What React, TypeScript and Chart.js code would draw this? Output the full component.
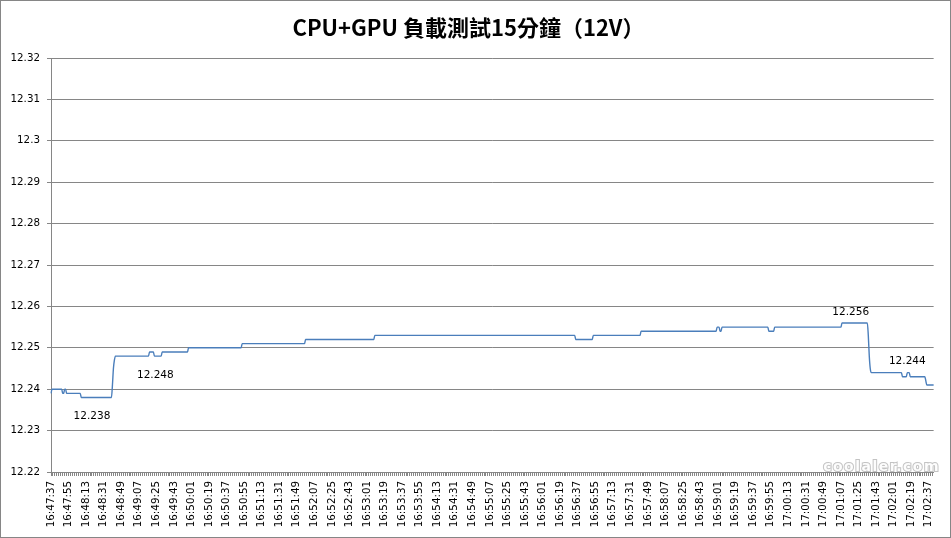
import React, { useEffect, useRef } from 'react';
import { Chart, registerables } from 'chart.js';

Chart.register(...registerables);

const TITLE = 'CPU+GPU 負載測試15分鐘（12V）';
const START_TIME = '16:47:37';
const LABEL_EVERY = 18;

// Voltage readings (one per second), stored as runs: value + how many seconds it held
const runValues = [
  12.239, 12.24, 12.239, 12.24, 12.239, 12.238, 12.241, 12.245, 12.247, 12.248,
  12.249, 12.248, 12.249, 12.25, 12.251, 12.252, 12.253, 12.252, 12.253, 12.254,
  12.255, 12.254, 12.255, 12.254, 12.255, 12.256, 12.253, 12.248, 12.245, 12.244,
  12.243, 12.244, 12.243, 12.242, 12.241,
];
const runLengths = [
  1, 11, 2, 2, 15, 32, 1, 1, 1, 35,
  5, 8, 27, 55, 65, 71, 206, 18, 49, 78,
  3, 2, 48, 6, 69, 27, 1, 1, 1, 32,
  5, 3, 16, 1, 8,
];

const labelIndices = [42, 107, 820, 878];
const labelPlacement = ['below', 'below', 'above', 'above'];

const Y_MIN = 12.22;
const Y_MAX = 12.32;
const Y_STEP = 0.01;

const voltages: number[] = [];
runValues.forEach((v, i) => {
  for (let k = 0; k < runLengths[i]; k++) voltages.push(v);
});

const pad2 = (n: number) => (n < 10 ? '0' + n : String(n));
const startParts = START_TIME.split(':').map(Number);
const startSec = startParts[0] * 3600 + startParts[1] * 60 + startParts[2];
const timeLabels: string[] = voltages.map((_, i) => {
  const s = startSec + i;
  return `${Math.floor(s / 3600)}:${pad2(Math.floor((s % 3600) / 60))}:${pad2(s % 60)}`;
});

const GREY = '#868686';
const LINE_BLUE = '#4A7EBB';

const framePlugin = {
  id: 'frame',
  beforeDraw(chart: any) {
    const { ctx, width, height } = chart;
    ctx.save();
    ctx.fillStyle = '#ffffff';
    ctx.fillRect(0, 0, width, height);
    ctx.restore();
  },
  afterDraw(chart: any) {
    const { ctx, width, height } = chart;
    ctx.save();
    ctx.strokeStyle = GREY;
    ctx.lineWidth = 1;
    ctx.strokeRect(0.5, 0.5, width - 1, height - 1);
    ctx.restore();
  },
};

const dataLabelPlugin = {
  id: 'dataLabels',
  afterDatasetsDraw(chart: any) {
    const { ctx } = chart;
    const xs = chart.scales.x;
    const ys = chart.scales.y;
    ctx.save();
    ctx.font = "10.5px 'DejaVu Sans', sans-serif";
    ctx.fillStyle = '#000';
    ctx.textAlign = 'center';
    ctx.textBaseline = 'middle';
    labelIndices.forEach((idx, i) => {
      const v = voltages[idx];
      const x = xs.getPixelForValue(idx);
      const y = ys.getPixelForValue(v);
      const dy = labelPlacement[i] === 'below' ? 19 : -11;
      ctx.fillText(v.toFixed(3), x, y + dy);
    });
    ctx.restore();
  },
};

const watermarkPlugin = {
  id: 'watermark',
  afterDraw(chart: any) {
    const { ctx } = chart;
    ctx.save();
    ctx.font = "bold 14px 'DejaVu Sans', sans-serif";
    try { (ctx as any).letterSpacing = '1.5px'; } catch (e) {}
    ctx.textAlign = 'right';
    ctx.textBaseline = 'alphabetic';
    ctx.lineWidth = 2;
    ctx.strokeStyle = 'rgba(170,170,170,0.7)';
    ctx.strokeText('coolaler.com', 940, 471);
    ctx.fillStyle = 'rgba(255,255,255,0.95)';
    ctx.fillText('coolaler.com', 940, 471);
    ctx.restore();
  },
};

export default function App() {
  const canvasRef = useRef<HTMLCanvasElement | null>(null);

  useEffect(() => {
    if (!canvasRef.current) return;
    const chart = new Chart(canvasRef.current, {
      type: 'line',
      data: {
        labels: timeLabels,
        datasets: [
          {
            data: voltages,
            borderColor: LINE_BLUE,
            borderWidth: 1.4,
            pointRadius: 0,
            pointHoverRadius: 0,
            fill: false,
            cubicInterpolationMode: 'monotone',
          },
        ],
      },
      options: {
        animation: false,
        responsive: false,
        maintainAspectRatio: false,
        events: [],
        layout: { padding: { left: 0, right: 14, top: 0, bottom: 0 } },
        plugins: {
          legend: { display: false },
          tooltip: { enabled: false },
          title: {
            display: true,
            text: TITLE,
            color: '#000',
            font: { family: "'Noto Sans CJK TC', 'Noto Sans', sans-serif", size: 22, weight: 'bold' },
            padding: { top: 14, bottom: 17.6 },
          },
        },
        scales: {
          x: {
            type: 'category',
            offset: false,
            grid: {
              display: true,
              drawOnChartArea: false,
              drawTicks: true,
              tickLength: 4,
              tickColor: (c: any) => (c.index % 2 === 0 ? GREY : 'rgba(0,0,0,0)'),
            },
            border: { display: true, color: GREY, width: 1 },
            ticks: {
              autoSkip: false,
              maxRotation: 90,
              minRotation: 90,
              padding: 5,
              color: '#000',
              font: { family: "'DejaVu Sans', sans-serif", size: 10.3 },
              callback: (_v: any, i: number) => (i % LABEL_EVERY === 0 ? timeLabels[i] : ''),
            },
            afterFit: (s: any) => {
              s.height = 66;
            },
          },
          y: {
            min: Y_MIN,
            max: Y_MAX,
            grid: { color: GREY, tickLength: 4, tickColor: GREY },
            border: { display: true, color: GREY, width: 1 },
            ticks: {
              stepSize: Y_STEP,
              padding: 7,
              color: '#000',
              font: { family: "'DejaVu Sans', sans-serif", size: 10.3 },
              callback: (v: any) => String(Number(Number(v).toFixed(2))),
            },
            afterFit: (s: any) => {
              s.width = 51;
            },
          },
        },
      },
      plugins: [framePlugin, dataLabelPlugin, watermarkPlugin],
    } as any);
    return () => chart.destroy();
  }, []);

  return (
    <div style={{ position: 'fixed', left: 0, top: 0, width: 951, height: 538 }}>
      <canvas ref={canvasRef} width={951} height={538} style={{ width: 951, height: 538, display: 'block' }} />
    </div>
  );
}
